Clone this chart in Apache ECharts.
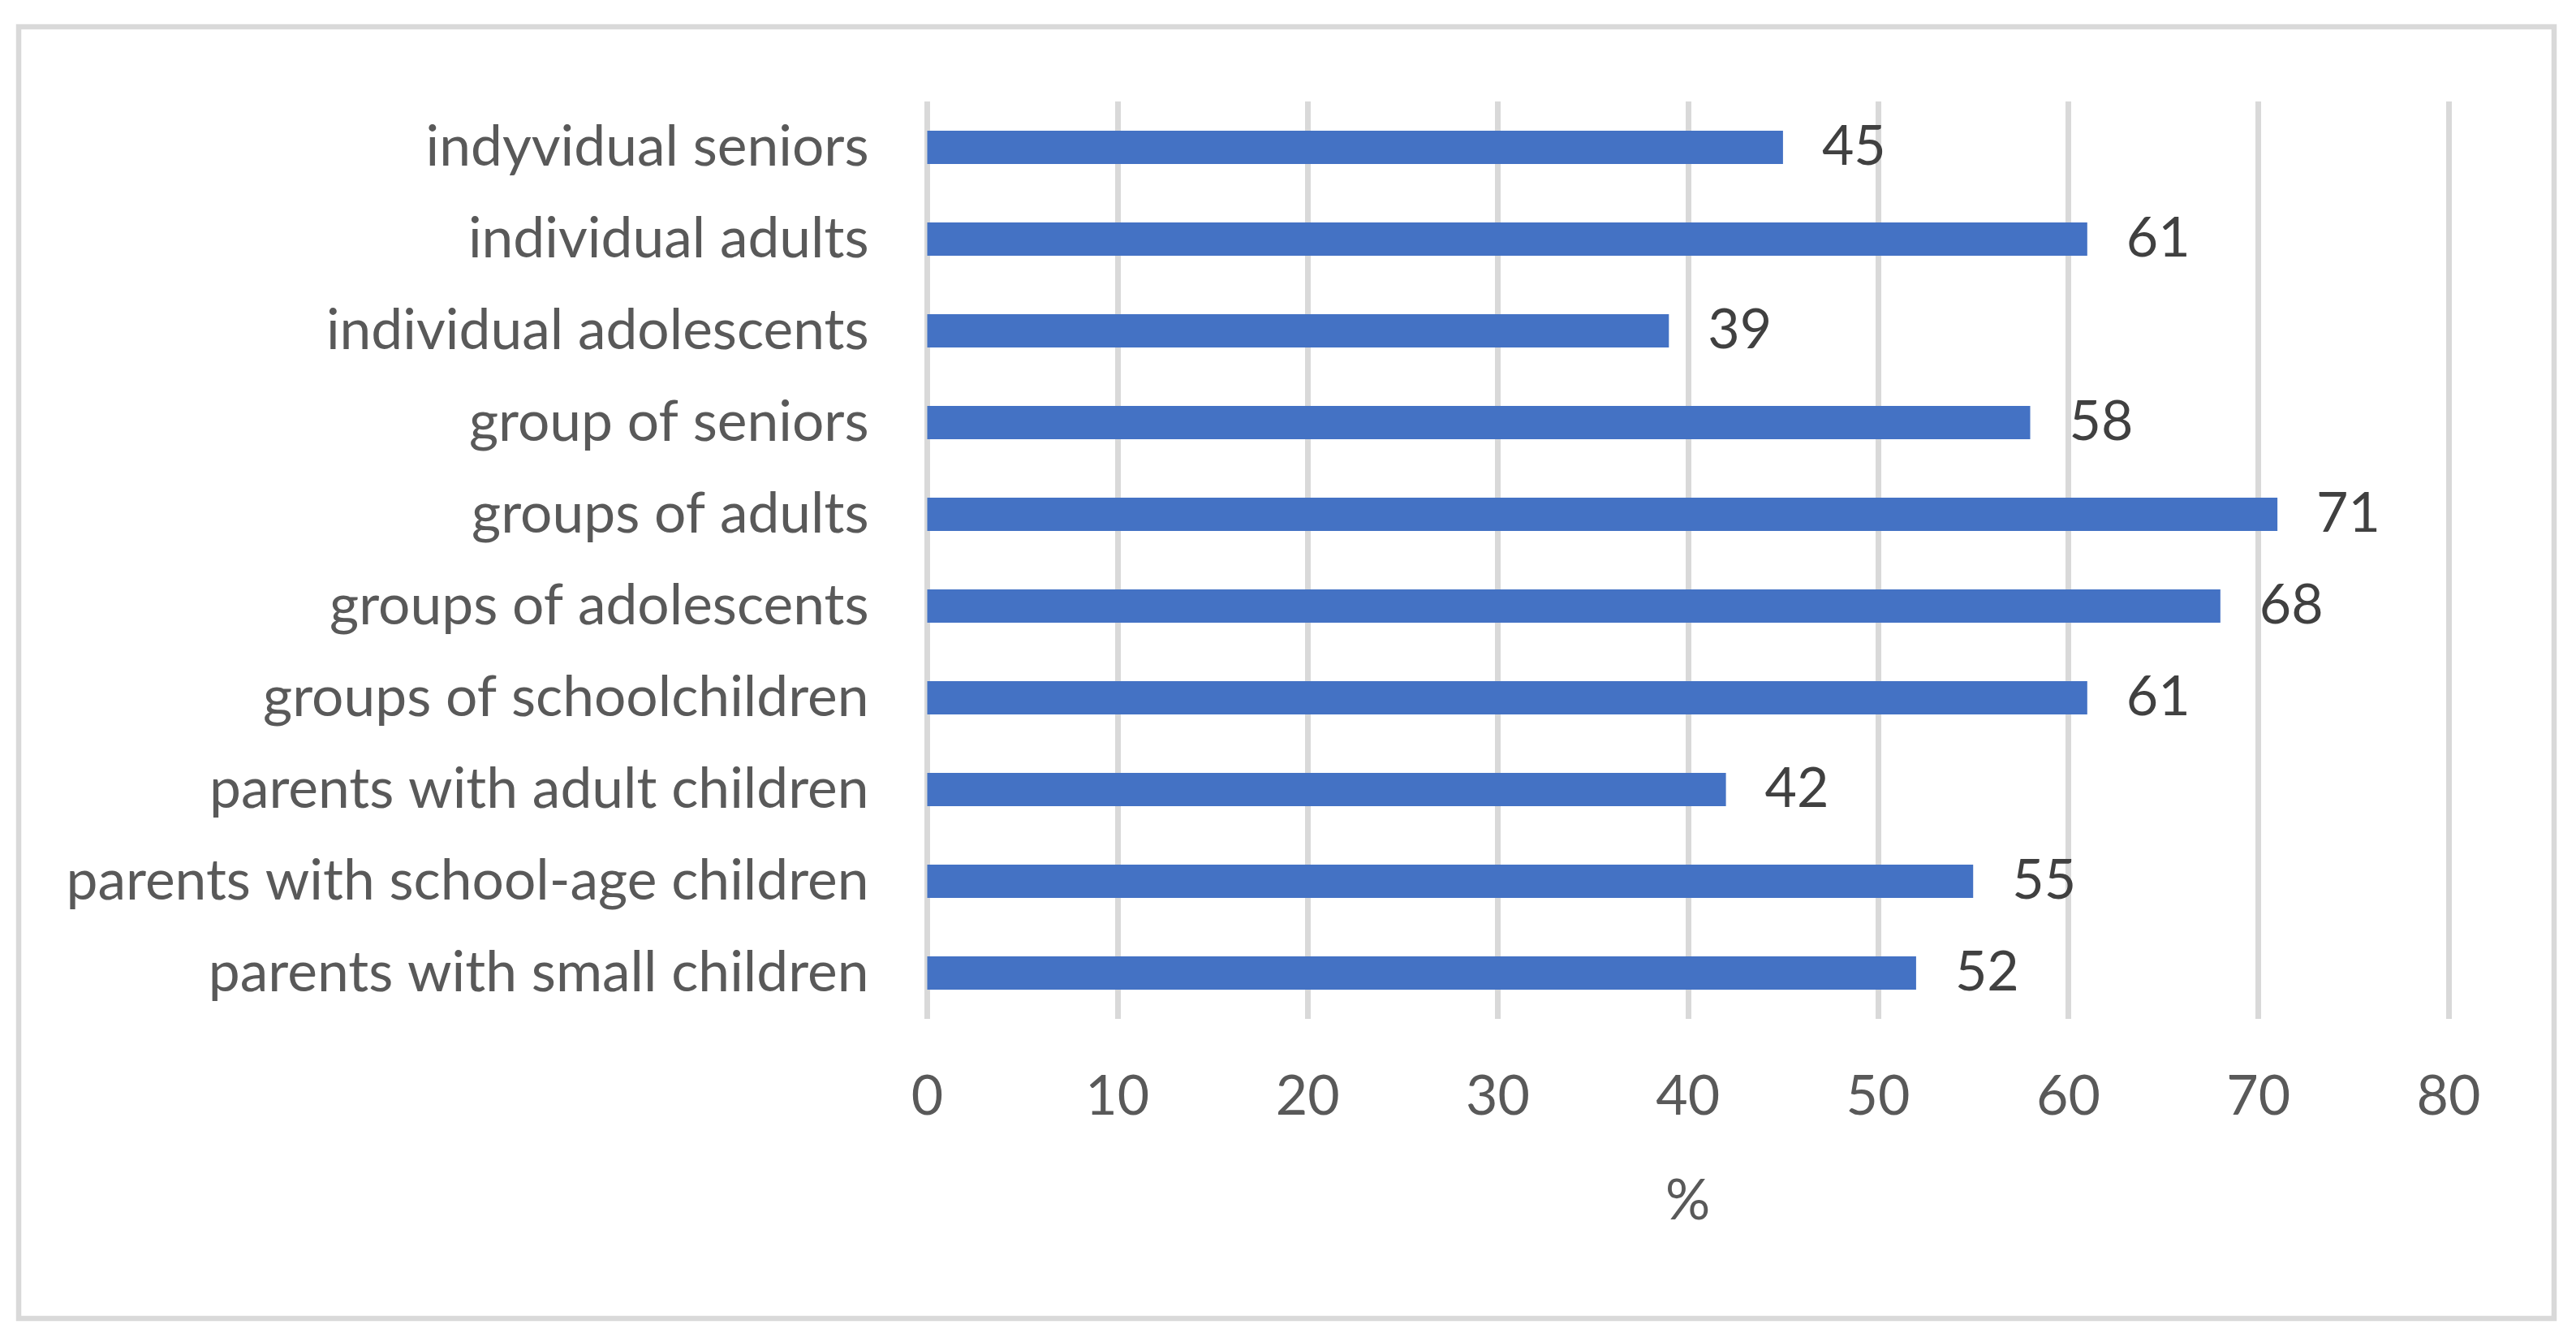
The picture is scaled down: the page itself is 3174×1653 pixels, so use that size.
<!DOCTYPE html>
<html>
<head>
<meta charset="utf-8">
<script src="https://cdn.jsdelivr.net/npm/echarts@6/dist/echarts.min.js"></script>
<style>
html,body{margin:0;padding:0;background:#fff;}
#chart{width:3174px;height:1653px;}
</style>
</head>
<body>
<div id="chart"></div>
<script>
const categories = [
  "indyvidual seniors",
  "individual adults",
  "individual adolescents",
  "group of seniors",
  "groups of adults",
  "groups of adolescents",
  "groups of schoolchildren",
  "parents with adult children",
  "parents with school-age children",
  "parents with small children"
];
const values = [45, 61, 39, 58, 71, 68, 61, 42, 55, 52];
const axisName = "%";

const FONT = "Lato";
const chart = echarts.init(document.getElementById('chart'));
chart.setOption({
  backgroundColor: '#ffffff',
  animation: false,
  graphic: [{
    type: 'rect',
    shape: {x: 23, y: 33, width: 3124, height: 1591},
    style: {fill: 'none', stroke: '#d9d9d9', lineWidth: 6.5},
    silent: true
  }],
  grid: {left: 1142.5, right: 157, top: 125, bottom: 398, containLabel: false},
  xAxis: {
    type: 'value',
    min: 0, max: 80, interval: 10,
    name: axisName,
    nameLocation: 'middle',
    nameGap: 190,
    nameTextStyle: {fontFamily: FONT, fontSize: 69, color: '#595959'},
    axisLine: {show: false},
    axisTick: {show: false},
    axisLabel: {fontFamily: FONT, fontSize: 68, color: '#595959', margin: 62},
    splitLine: {show: true, lineStyle: {color: '#d9d9d9', width: 7}}
  },
  yAxis: {
    type: 'category',
    data: categories,
    inverse: true,
    axisLine: {show: false},
    axisTick: {show: false},
    axisLabel: {fontFamily: FONT, fontSize: 69.5, color: '#595959', margin: 72}
  },
  series: [{
    type: 'bar',
    data: values,
    barWidth: 41,
    itemStyle: {color: '#4472c4'},
    label: {
      show: true,
      position: 'right',
      distance: 48,
      fontFamily: FONT,
      fontSize: 68,
      color: '#404040'
    }
  }]
});
</script>
</body>
</html>
